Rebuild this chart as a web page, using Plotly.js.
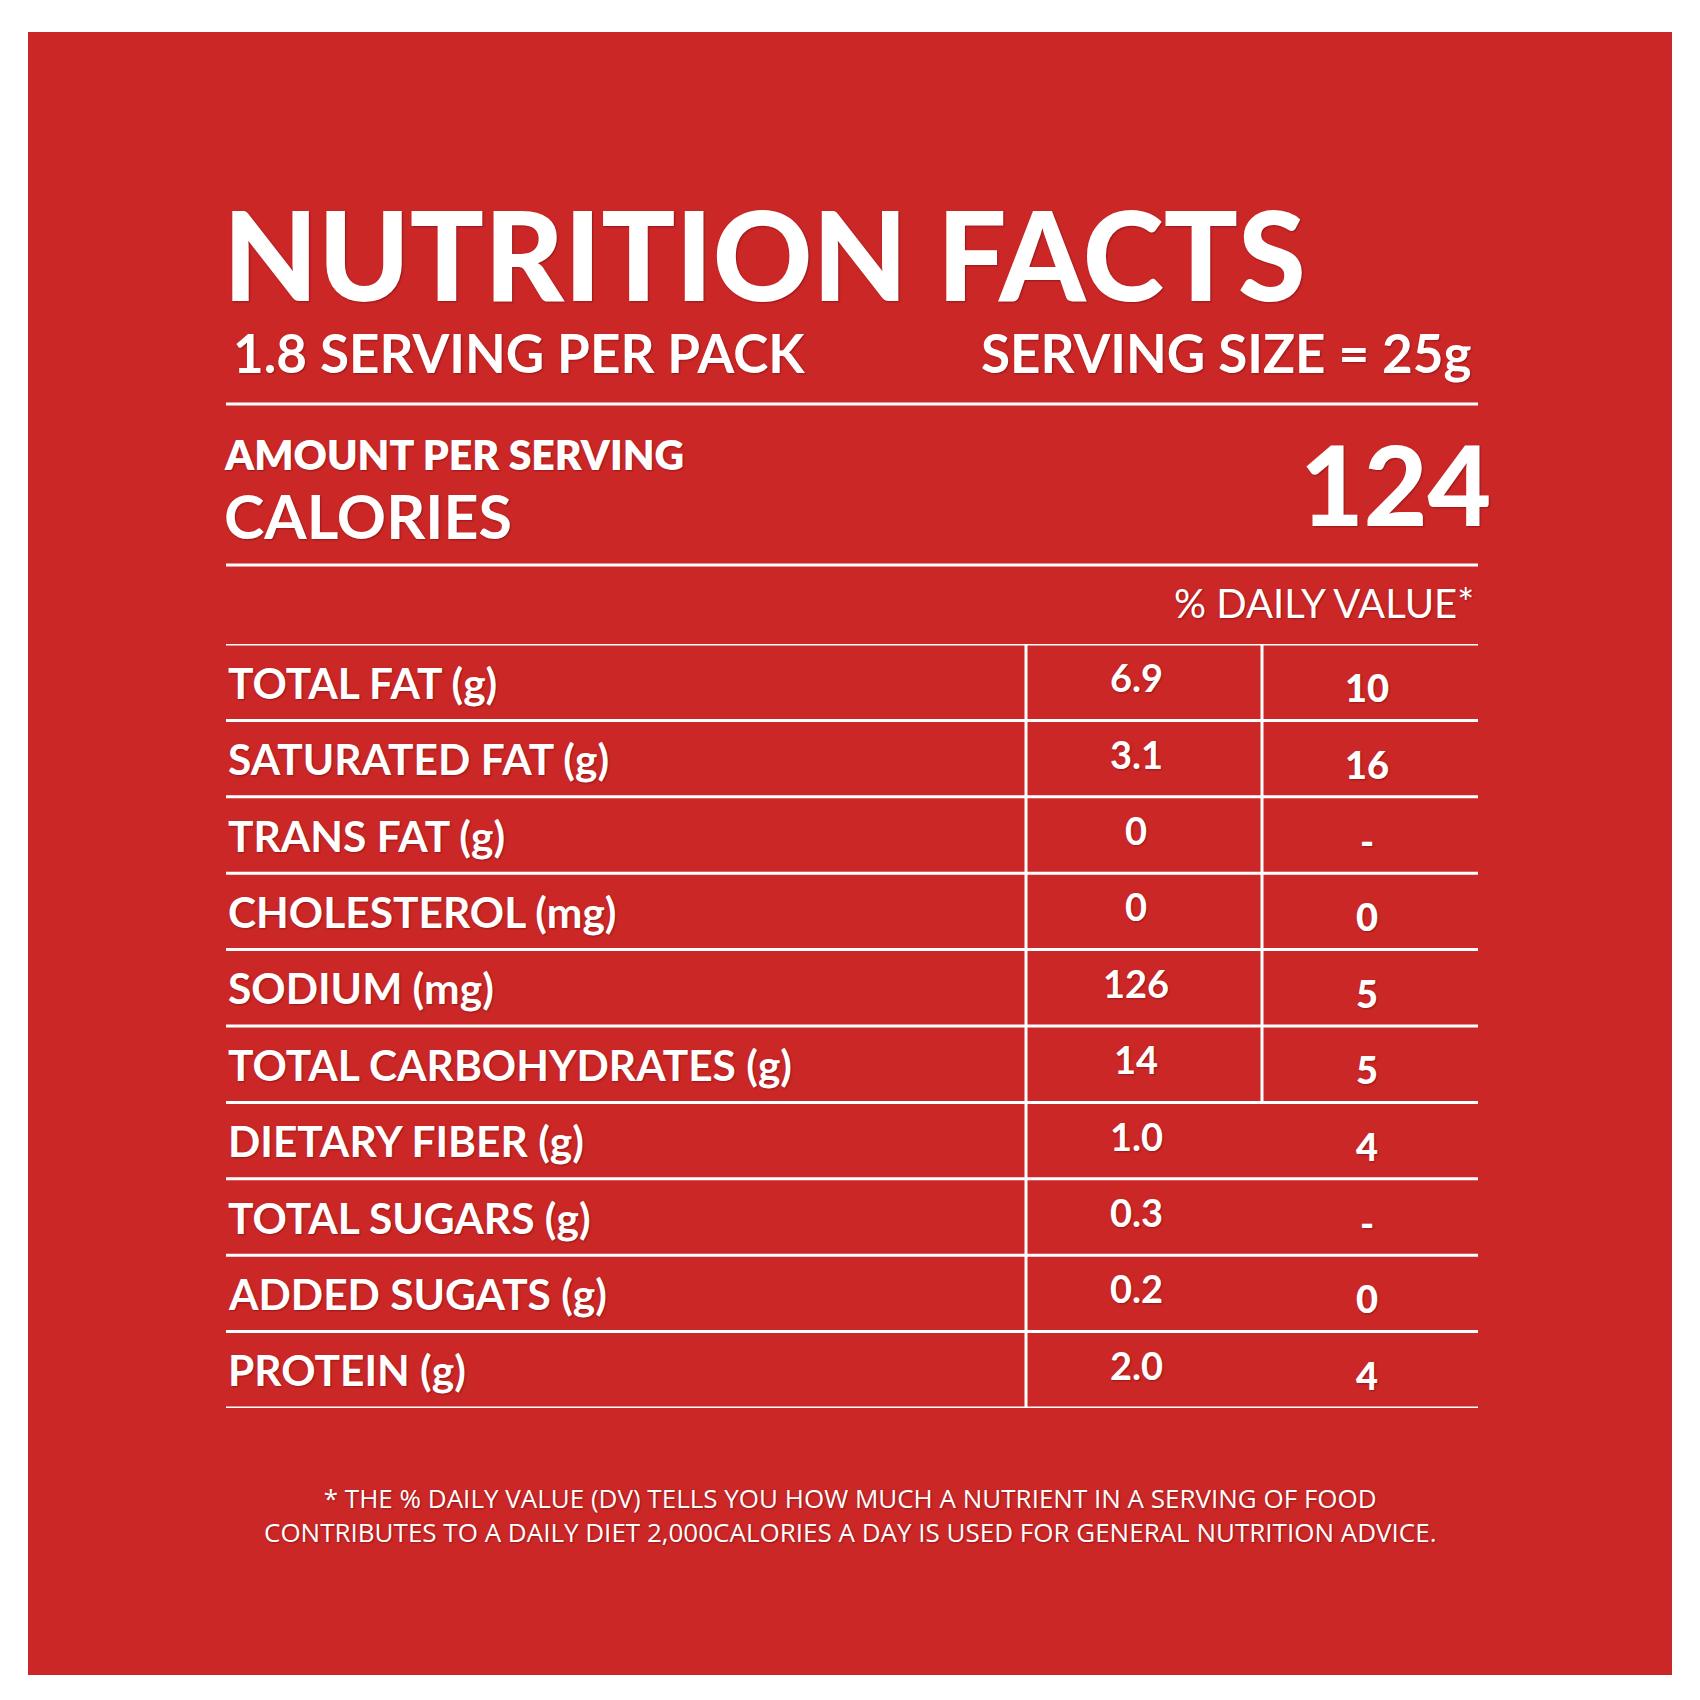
<!DOCTYPE html>
<html>
<head>
<meta charset="utf-8">
<script src="https://cdn.plot.ly/plotly-3.0.1.min.js"></script>
<style>html,body{margin:0;padding:0;background:#fff;}#chart{width:1700px;height:1700px;}</style>
</head>
<body>
<div id="chart"></div>
<script>
// ---- data ----
const nutrients = ["TOTAL FAT (g)", "SATURATED FAT (g)", "TRANS FAT (g)", "CHOLESTEROL (mg)", "SODIUM (mg)",
  "TOTAL CARBOHYDRATES (g)", "DIETARY FIBER (g)", "TOTAL SUGARS (g)", "ADDED SUGATS (g)", "PROTEIN (g)"];
const amounts = ["6.9", "3.1", "0", "0", "126", "14", "1.0", "0.3", "0.2", "2.0"];
const dailyValues = ["10", "16", "-", "0", "5", "5", "4", "-", "0", "4"];
const boxedDvRows = 6; // rows whose %DV cell has a border
const titleText = "NUTRITION FACTS";
const servingsText = "1.8 SERVING PER PACK";
const servingSizeText = "SERVING SIZE = 25g";
const amountLabel = "AMOUNT PER SERVING";
const caloriesLabel = "CALORIES";
const calories = "124";
const dvHeader = "% DAILY VALUE*";
const footnoteLines = [
  "* THE % DAILY VALUE (DV) TELLS YOU HOW MUCH A NUTRIENT IN A SERVING OF FOOD",
  "CONTRIBUTES TO A DAILY DIET 2,000CALORIES A DAY IS USED FOR GENERAL NUTRITION ADVICE."
];

// ---- style ----
const RED = "#CB2727";
const WHITE = "#FFFFFF";
const FONT = "Lato, 'Open Sans', sans-serif";
const SHADOW = "1px 1px 2px rgba(90,0,0,0.45)";
const LW = 3;
const TX0 = 226, TX1 = 1478;      // table / rule x extent
const COL1 = 1026, COL2 = 1262;   // vertical rules
const AMT_X = 1136, DV_X = 1367, LABEL_X = 226;

const n = nutrients.length;
const rowIdx = nutrients.map((_, i) => i);

const shapes = [];
// panel
shapes.push({type: "rect", xref: "x", yref: "y", x0: 28, x1: 1672, y0: 32, y1: 1675,
  fillcolor: RED, line: {width: 0}, layer: "below"});
// header rules
[404, 565].forEach(y => shapes.push({type: "line", xref: "x", yref: "y", x0: TX0, x1: TX1, y0: y, y1: y,
  line: {color: WHITE, width: LW}}));
// table horizontal rules
for (let k = 0; k <= n; k++) {
  shapes.push({type: "line", xref: "x", yref: "y2", x0: TX0, x1: TX1, y0: k - 0.5, y1: k - 0.5,
    line: {color: WHITE, width: LW}});
}
// vertical rules
shapes.push({type: "line", xref: "x", yref: "y2", x0: COL1, x1: COL1, y0: -0.5, y1: n - 0.5,
  line: {color: WHITE, width: LW}});
shapes.push({type: "line", xref: "x", yref: "y2", x0: COL2, x1: COL2, y0: -0.5, y1: boxedDvRows - 0.5,
  line: {color: WHITE, width: LW}});

const ann = [];
function A(text, x, y, size, weight, xanchor, family, extra) {
  ann.push(Object.assign({text: text, x: x, y: y, xref: "x", yref: "y", xanchor: xanchor, yanchor: "middle",
    showarrow: false, font: {family: family || FONT, size: size, color: WHITE, weight: weight, shadow: SHADOW}}, extra || {}));
}
A(titleText, 221, 253, 123, 900, "left");
A(servingsText, 231, 352, 53, 700, "left");
A(servingSizeText, 1473, 352, 53, 700, "right");
A(amountLabel, 222, 454, 41, 800, "left");
A(caloriesLabel, 222, 515, 61, 700, "left");
A(calories, 1493, 483, 110, 900, "right");
A(dvHeader, 1476, 603, 40, 400, "right");
A(footnoteLines.join("<br>"), 850, 1515, 26, 400, "center", "'Open Sans', sans-serif");

// table values via annotations on the row axis
nutrients.forEach((t, i) => {
  ann.push({text: t, x: LABEL_X, y: i, xref: "x", yref: "y2", xanchor: "left", yanchor: "middle", showarrow: false,
    font: {family: FONT, size: 42.5, color: WHITE, weight: 700, shadow: SHADOW}});
  ann.push({text: amounts[i], x: AMT_X, y: i, xref: "x", yref: "y2", xanchor: "center", yanchor: "middle", showarrow: false,
    yshift: 5, font: {family: FONT, size: 38, color: WHITE, weight: 700, shadow: SHADOW}});
  ann.push({text: dailyValues[i], x: DV_X, y: i, xref: "x", yref: "y2", xanchor: "center", yanchor: "middle", showarrow: false,
    yshift: -5, font: {family: FONT, size: 38, color: WHITE, weight: 900, shadow: SHADOW}});
});

// invisible anchor trace on the row axis
const traces = [{type: "scatter", x: rowIdx.map(() => LABEL_X), y: rowIdx, yaxis: "y2", mode: "markers",
  marker: {size: 1, opacity: 0}, hoverinfo: "skip", showlegend: false}];

const layout = {
  width: 1700, height: 1700,
  margin: {l: 0, r: 0, t: 0, b: 0, pad: 0},
  paper_bgcolor: WHITE, plot_bgcolor: "rgba(0,0,0,0)",
  showlegend: false,
  xaxis: {range: [0, 1700], visible: false, fixedrange: true},
  yaxis: {range: [1700, 0], visible: false, fixedrange: true},
  yaxis2: {range: [n - 0.5, -0.5], domain: [1 - 1408 / 1700, 1 - 644 / 1700], visible: false, fixedrange: true,
    anchor: "x"},
  shapes: shapes,
  annotations: ann
};
Plotly.newPlot("chart", traces, layout, {displayModeBar: false, staticPlot: true});
</script>
</body>
</html>
